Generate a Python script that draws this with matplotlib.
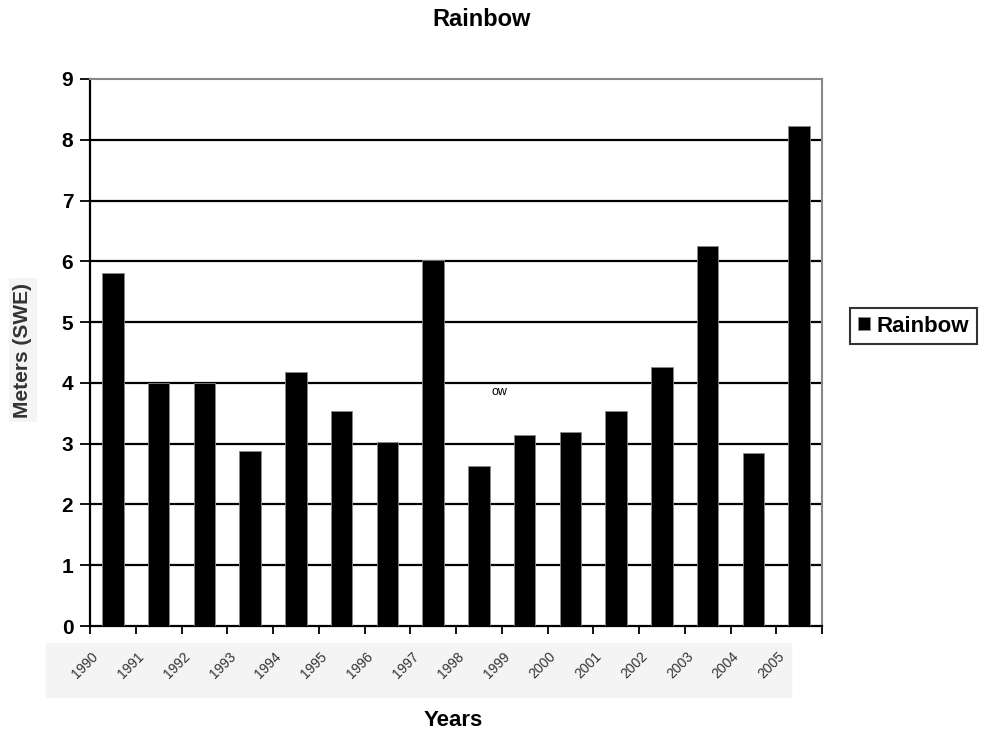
import matplotlib.pyplot as plt
from matplotlib.patches import Rectangle

plt.rcParams['font.family'] = ['Liberation Sans', 'DejaVu Sans']

# Data
years = [str(y) for y in range(1990, 2006)]
rainbow = [5.81, 4.00, 4.00, 2.88, 4.18, 3.53, 3.02, 6.03,
           2.63, 3.14, 3.19, 3.53, 4.26, 6.25, 2.85, 8.23]
yticks = list(range(0, 10))

fig = plt.figure(figsize=(9.86, 7.35), dpi=100)
ax = fig.add_axes([90 / 986, 1 - 626 / 735, 732 / 986, 547 / 735])

# grey band behind the x tick labels
fig.patches.append(Rectangle((46 / 986, 1 - 697 / 735), 745 / 986, 54 / 735,
                             transform=fig.transFigure, color='#f4f4f4', zorder=-5))

x = list(range(len(years)))
ax.bar(x, rainbow, width=0.47, color='black', edgecolor='#888888', linewidth=0.6,
       label='Rainbow', zorder=3)

ax.set_xlim(-0.5, len(years) - 0.5)
ax.set_ylim(0, 9)
ax.set_yticks(yticks)
ax.set_yticklabels([str(t) for t in yticks], fontsize=15, fontweight='bold')
for t in yticks[1:-1]:
    ax.axhline(t, color='black', linewidth=1.6, zorder=1)

# ticks sit on category boundaries; labels hang from the left boundary
ax.set_xticks([i - 0.5 for i in range(len(years) + 1)])
ax.set_xticklabels([])
ax.set_xticks([i - 0.47 for i in x], minor=True)
ax.set_xticklabels(years, minor=True, rotation=45, fontsize=10, ha='right',
                   rotation_mode='anchor', color='#333333')
ax.tick_params(axis='x', which='minor', length=0, pad=17)
ax.tick_params(axis='x', which='major', length=6, width=1.3, direction='out')
ax.tick_params(axis='y', length=7, width=1.3, direction='out', pad=5)

ax.spines['left'].set_linewidth(1.6)
ax.spines['bottom'].set_linewidth(1.6)
ax.spines['top'].set_color('#888888')
ax.spines['right'].set_color('#888888')
ax.spines['top'].set_linewidth(1.5)
ax.spines['right'].set_linewidth(1.5)

fig.text(23 / 986, 1 - 350 / 735, 'Meters (SWE)', rotation=90, ha='center', va='center',
         fontsize=15, fontweight='bold', color='#333333',
         bbox=dict(facecolor='#f4f4f4', edgecolor='none', pad=3))
fig.text(453 / 986, 1 - 721 / 735, 'Years', ha='center', va='center', fontsize=16, fontweight='bold')
fig.text(482 / 986, 1 - 19 / 735, 'Rainbow', ha='center', va='center', fontsize=17, fontweight='bold')
fig.text(499 / 986, 1 - 392 / 735, 'ow', ha='center', va='center', fontsize=9)

leg = fig.legend(loc='center left', bbox_to_anchor=(850 / 986, 1 - 326 / 735),
                 prop={'weight': 'bold', 'size': 16}, frameon=True, fancybox=False,
                 handlelength=0.55, handleheight=0.55, handletextpad=0.3, borderpad=0.35,
                 borderaxespad=0)
leg.get_frame().set_edgecolor('black')
leg.get_frame().set_linewidth(1.5)

plt.savefig('out.png', dpi=100)
